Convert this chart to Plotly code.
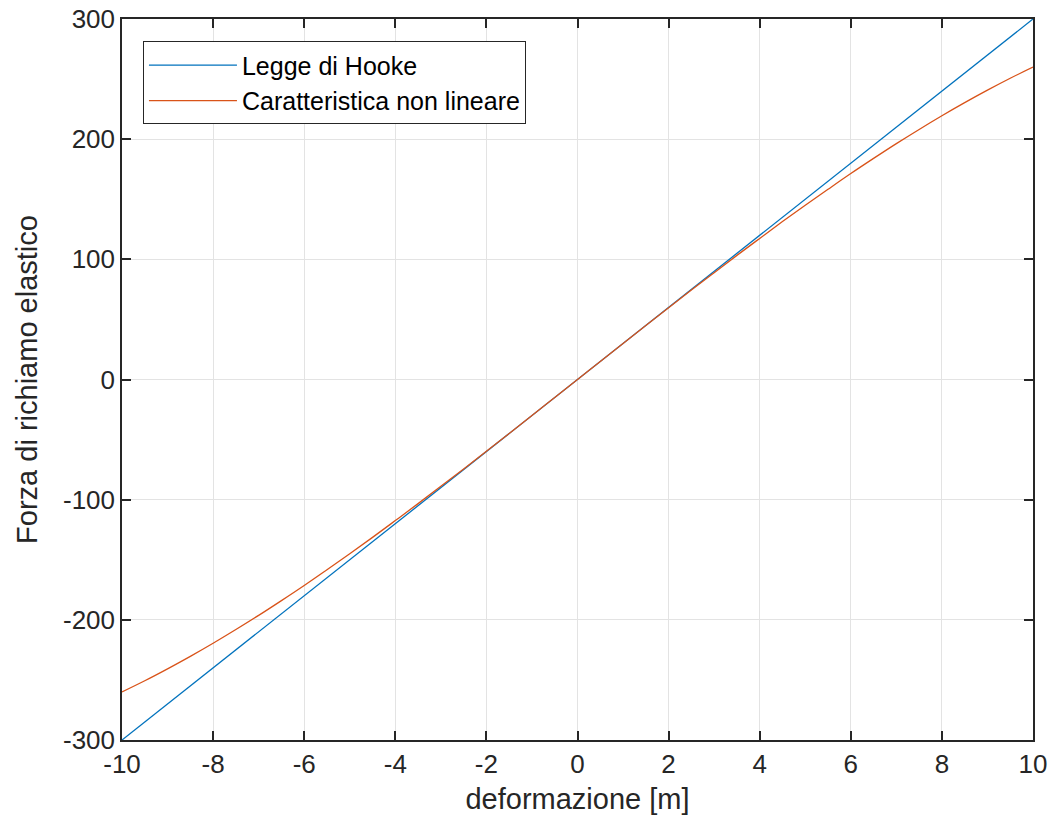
import plotly.graph_objects as go

# deformation samples [m]
deformazione = [-10, -9.5, -9, -8.5, -8, -7.5, -7, -6.5, -6, -5.5, -5, -4.5, -4, -3.5, -3, -2.5,
                -2, -1.5, -1, -0.5, 0, 0.5, 1, 1.5, 2, 2.5, 3, 3.5, 4, 4.5, 5, 5.5, 6, 6.5,
                7, 7.5, 8, 8.5, 9, 9.5, 10]

# linear (Hooke) restoring force
forza_hooke = [-300, -285, -270, -255, -240, -225, -210, -195, -180, -165, -150, -135, -120,
               -105, -90, -75, -60, -45, -30, -15, 0, 15, 30, 45, 60, 75, 90, 105, 120, 135,
               150, 165, 180, 195, 210, 225, 240, 255, 270, 285, 300]

# non-linear characteristic
forza_non_lineare = [-260, -250.7, -240.8, -230.4, -219.5, -208.1, -196.3, -184.0, -171.4,
                     -158.3, -145, -131.4, -117.4, -103.3, -88.9, -74.4, -59.7, -44.9, -30.0,
                     -15.0, 0, 15.0, 30.0, 44.9, 59.7, 74.4, 88.9, 103.3, 117.4, 131.4, 145,
                     158.3, 171.4, 184.0, 196.3, 208.1, 219.5, 230.4, 240.8, 250.7, 260]

x_ticks = [-10, -8, -6, -4, -2, 0, 2, 4, 6, 8, 10]
y_ticks = [-300, -200, -100, 0, 100, 200, 300]

AX = "#262626"
FONT = "Liberation Sans"

fig = go.Figure()
fig.add_trace(go.Scatter(x=deformazione, y=forza_hooke, mode="lines",
                         name="Legge di Hooke",
                         line=dict(color="#0072BD", width=1.3)))
fig.add_trace(go.Scatter(x=deformazione, y=forza_non_lineare, mode="lines",
                         name="Caratteristica non lineare",
                         line=dict(color="#D95319", width=1.3, shape="spline")))

axis_common = dict(
    showline=True, linecolor=AX, linewidth=1.5, mirror="ticks",
    ticks="inside", ticklen=9, tickwidth=1.5, tickcolor=AX,
    showgrid=True, gridcolor="#e3e3e3", gridwidth=1,
    zeroline=False, automargin=False,
    tickfont=dict(family=FONT, size=26, color=AX),
    title_font=dict(family=FONT, size=29, color=AX),
)

fig.update_xaxes(range=[-10, 10], tickvals=x_ticks, ticktext=[str(v) for v in x_ticks],
                 title_text="deformazione [m]", title_standoff=11, **axis_common)
fig.update_yaxes(range=[-300, 300], tickvals=y_ticks, ticktext=[str(v) for v in y_ticks],
                 title_text="Forza di richiamo elastico", title_standoff=17, **axis_common)

fig.update_layout(
    width=1051, height=827,
    margin=dict(l=122, r=18, t=19, b=87),
    paper_bgcolor="white", plot_bgcolor="white",
    showlegend=True,
    legend=dict(x=0.023, y=0.969, xanchor="left", yanchor="top",
                bgcolor="white", bordercolor=AX, borderwidth=1,
                font=dict(family=FONT, size=25, color="black"),
                itemwidth=88, tracegroupgap=0),
)

fig.write_html("out.html")
